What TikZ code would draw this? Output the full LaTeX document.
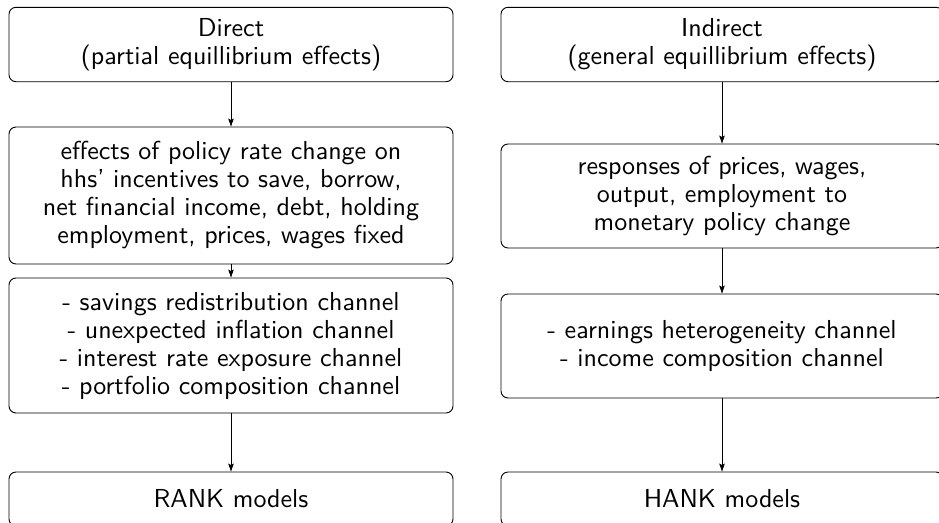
\documentclass[tikz,border=0pt]{standalone}
\usepackage{fontspec}
\newfontfamily\tensans{lmsans10-regular.otf}[Ligatures=TeX]
\usetikzlibrary{arrows.meta}
\begin{document}
\begin{tikzpicture}[x=1pt,y=-1pt,
  box/.style={draw, rounded corners=7pt, line width=0.9pt, inner sep=0pt,
    align=center, font=\tensans\fontsize{26}{28}\selectfont},
  lbox/.style={box, minimum width=444pt},
  rbox/.style={box, minimum width=442pt},
  arr/.style={line width=0.8pt, -{Stealth[length=8pt,width=5.5pt,inset=1.5pt]}}]
\useasboundingbox (0,0) rectangle (939,522);
\clip (0,0) rectangle (939,522);
\node[lbox, minimum height=74.4pt] (L1) at (231,44.5) {Direct\\(partial equillibrium effects)};
\node[lbox, minimum height=137pt] (L2) at (231,195.5) {effects of policy rate change on\\hhs’ incentives to save, borrow,\\net financial income, debt, holding\\employment, prices, wages fixed};
\node[lbox, minimum height=135pt] (L3) at (231,345.5) {- savings redistribution channel\\- unexpected inflation channel\\- interest rate exposure channel\\- portfolio composition channel};
\node[lbox, minimum height=54pt] (L4) at (231,499) {RANK models};
\node[rbox, minimum height=74.4pt] (R1) at (722,44.5) {Indirect\\(general equillibrium effects)};
\node[rbox, minimum height=104pt] (R2) at (722,196) {responses of prices, wages,\\output, employment to\\monetary policy change};
\node[rbox, minimum height=104pt] (R3) at (722,346) {- earnings heterogeneity channel\\- income composition channel};
\node[rbox, minimum height=54pt] (R4) at (722,499) {HANK models};
\draw[arr] (L1) -- (L2);
\draw[arr] (L2) -- (L3);
\draw[arr] (L3) -- (L4);
\draw[arr] (R1) -- (R2);
\draw[arr] (R2) -- (R3);
\draw[arr] (R3) -- (R4);
\end{tikzpicture}
\end{document}
